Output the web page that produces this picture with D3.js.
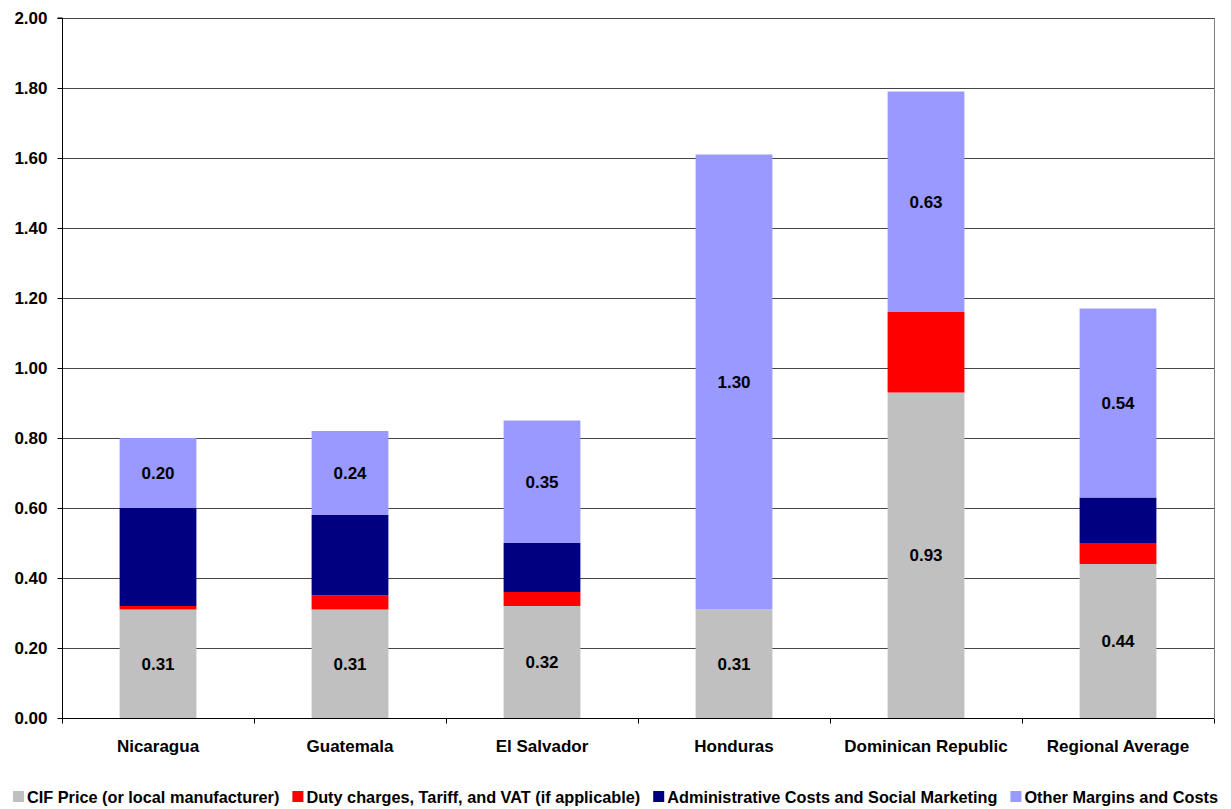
<!DOCTYPE html>
<html>
<head>
<meta charset="utf-8">
<script src="https://cdn.jsdelivr.net/npm/d3@7"></script>
<style>
  body { margin: 0; background: #fff; }
  text { font-family: "Liberation Sans", Arial, sans-serif; font-weight: bold; fill: #000; }
</style>
</head>
<body>
<div id="chart"></div>
<script>
// Stacked cost components per country
const countries = ["Nicaragua", "Guatemala", "El Salvador", "Honduras", "Dominican Republic", "Regional Average"];
const seriesNames = [
  "CIF Price (or local manufacturer)",
  "Duty charges, Tariff, and VAT (if applicable)",
  "Administrative Costs and Social Marketing",
  "Other Margins and Costs"
];
const cifPrice   = [0.31, 0.31, 0.32, 0.31, 0.93, 0.44];
const dutyVat    = [0.01, 0.04, 0.04, 0.00, 0.23, 0.06];
const adminCosts = [0.28, 0.23, 0.14, 0.00, 0.00, 0.13];
const otherCosts = [0.20, 0.24, 0.35, 1.30, 0.63, 0.54];
const yTicks = [0, 0.2, 0.4, 0.6, 0.8, 1.0, 1.2, 1.4, 1.6, 1.8, 2.0];

const seriesColors = ["#c0c0c0", "#ff0000", "#000080", "#9999ff"];
const labelledSeries = [0, 3];   // only CIF and Other carry value labels

const width = 1231, height = 809;
const margin = { top: 18, right: 17, bottom: 91, left: 62 };

const svg = d3.select("#chart").append("svg")
  .attr("width", width)
  .attr("height", height);

const x = d3.scaleBand()
  .domain(countries)
  .range([margin.left, width - margin.right])
  .paddingInner(0.6)
  .paddingOuter(0.3);

const y = d3.scaleLinear()
  .domain([0, 2])
  .range([height - margin.bottom, margin.top]);

// Build rows for d3.stack
const rows = countries.map((c, i) => ({
  country: c,
  s0: cifPrice[i], s1: dutyVat[i], s2: adminCosts[i], s3: otherCosts[i]
}));
const stacked = d3.stack().keys(["s0", "s1", "s2", "s3"])(rows);

// Gridlines
svg.append("g")
  .selectAll("line")
  .data(yTicks.slice(1))
  .join("line")
  .attr("x1", margin.left)
  .attr("x2", width - margin.right)
  .attr("y1", d => y(d) + 0.5)
  .attr("y2", d => y(d) + 0.5)
  .attr("stroke", "#444")
  .attr("stroke-width", 1);

// Right border of plot area
svg.append("line")
  .attr("x1", width - margin.right + 0.5).attr("x2", width - margin.right + 0.5)
  .attr("y1", margin.top).attr("y2", y(0))
  .attr("stroke", "#808080");

// Bars
stacked.forEach((layer, si) => {
  svg.append("g")
    .selectAll("rect")
    .data(layer)
    .join("rect")
    .attr("x", d => x(d.data.country))
    .attr("width", x.bandwidth())
    .attr("y", d => y(d[1]))
    .attr("height", d => y(d[0]) - y(d[1]))
    .attr("fill", seriesColors[si]);
});

// Value labels
labelledSeries.forEach(si => {
  svg.append("g")
    .selectAll("text")
    .data(stacked[si].filter(d => d[1] - d[0] > 0))
    .join("text")
    .attr("x", d => x(d.data.country) + x.bandwidth() / 2)
    .attr("y", d => (y(d[0]) + y(d[1])) / 2)
    .attr("dy", "0.36em")
    .attr("text-anchor", "middle")
    .style("font-size", "17px")
    .text(d => (d[1] - d[0]).toFixed(2));
});

// Y axis
const yAxis = svg.append("g")
  .attr("transform", `translate(${margin.left + 0.5},0)`)
  .call(d3.axisLeft(y).tickValues(yTicks).tickFormat(d3.format(".2f")).tickSize(5).tickPadding(10));
yAxis.select(".domain").attr("stroke", "#000").attr("d", `M-5,${y(2)}H0V${y(0)}`);
yAxis.selectAll(".tick line").attr("stroke", "#000");
yAxis.selectAll("text").style("font-size", "17px").style("font-family", "Liberation Sans, Arial, sans-serif");

// X axis: ticks at category boundaries
const xAxisG = svg.append("g").attr("transform", `translate(0,${y(0) + 0.5})`);
xAxisG.append("line")
  .attr("x1", margin.left).attr("x2", width - margin.right)
  .attr("stroke", "#000").attr("stroke-width", 1.2);
const step = x.step();
const boundaries = d3.range(countries.length + 1).map(i => margin.left + i * step);
xAxisG.selectAll(".xtick")
  .data(boundaries)
  .join("line")
  .attr("class", "xtick")
  .attr("x1", d => d + 0.5).attr("x2", d => d + 0.5)
  .attr("y1", 0).attr("y2", 5)
  .attr("stroke", "#000");
xAxisG.selectAll(".xlabel")
  .data(countries)
  .join("text")
  .attr("class", "xlabel")
  .attr("x", d => x(d) + x.bandwidth() / 2)
  .attr("y", 33)
  .attr("text-anchor", "middle")
  .style("font-size", "17px")
  .text(d => d);

// Legend
const legend = svg.append("g").attr("transform", `translate(0, ${height - 6})`);
const items = legend.selectAll("g")
  .data(seriesNames)
  .join("g");
items.append("rect")
  .attr("width", 11).attr("height", 11)
  .attr("y", -12)
  .attr("fill", (d, i) => seriesColors[i]);
items.append("text")
  .attr("x", 14)
  .style("font-size", "16.3px")
  .text(d => d);

let cursor = 0;
const offsets = [];
const gap = 13;
items.each(function() {
  offsets.push(cursor);
  cursor += this.getBBox().width + gap;
});
const startX = (width - (cursor - gap)) / 2;
items.attr("transform", (d, i) => `translate(${startX + offsets[i]},0)`);
</script>
</body>
</html>
